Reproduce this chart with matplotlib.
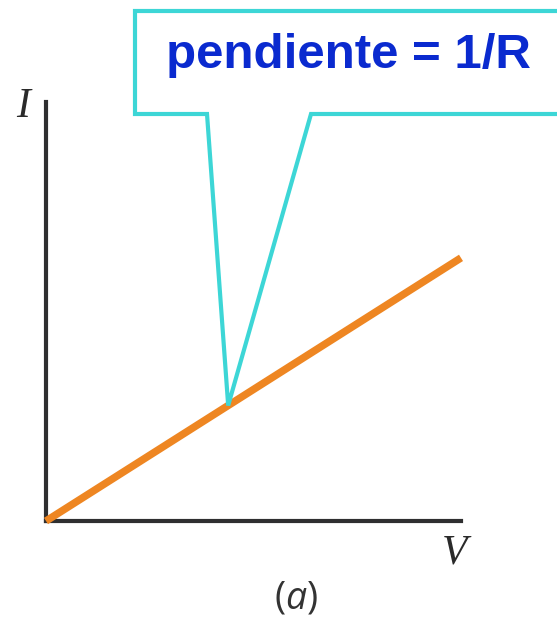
import numpy as np
import matplotlib
matplotlib.use("Agg")
import matplotlib.pyplot as plt
from matplotlib.patches import Polygon

# data: ohmic I-V line
voltage = [0.0, 1.0]
current = [0.0, 0.628]
tip_v = 0.439  # where the callout points on the line

label_text = "pendiente = 1/R"

W, H = 557, 619
plt.rcParams["mathtext.fontset"] = "custom"
plt.rcParams["mathtext.rm"] = "Open Sans"
plt.rcParams["mathtext.it"] = "Open Sans:italic"

fig = plt.figure(figsize=(W / 100, H / 100), dpi=100)
ax = fig.add_axes([46 / W, (H - 521) / H, (461 - 46) / W, (521 - 102) / H])
ax.set_xlim(0, 1)
ax.set_ylim(0, 1)

ax.plot(voltage, current, color="#EE8622", linewidth=5.4, solid_capstyle="butt", zorder=3,
        clip_on=False)

for side in ["top", "right"]:
    ax.spines[side].set_visible(False)
for side in ["left", "bottom"]:
    ax.spines[side].set_color("#2f2f30")
    ax.spines[side].set_linewidth(3.0)
ax.set_xticks([])
ax.set_yticks([])

# callout box in pixel coords (y down), tip from data
tip_disp = ax.transData.transform((tip_v, np.interp(tip_v, voltage, current)))
tip_px = (tip_disp[0], H - tip_disp[1])
verts_px = [(135, 11), (570, 11), (570, 114), (311, 114), tip_px, (207, 114), (135, 114)]
verts = [(x / W, 1 - y / H) for x, y in verts_px]
fig.patches.append(Polygon(verts, closed=True, transform=fig.transFigure,
                           facecolor="white", edgecolor="#3DD6D6", linewidth=3.0,
                           joinstyle="miter", zorder=4))

fig.text(349 / W, 1 - 56 / H, label_text, fontsize=35.5, fontweight="bold",
         family="Liberation Sans", color="#0A2ACF", ha="center", va="center", zorder=5)

fig.text(23 / W, 1 - 107 / H, "I", fontsize=30, fontstyle="italic",
         family="Liberation Serif", color="#2a2a2a", ha="center", va="center")
fig.text(455 / W, 1 - 553 / H, "V", fontsize=30, fontstyle="italic",
         family="Liberation Serif", color="#2a2a2a", ha="center", va="center")
fig.text(296 / W, 1 - 598 / H, r"($\mathit{a}$)", fontsize=27,
         family="Open Sans", color="#333333", ha="center", va="center")

fig.savefig("out.png", dpi=100)
